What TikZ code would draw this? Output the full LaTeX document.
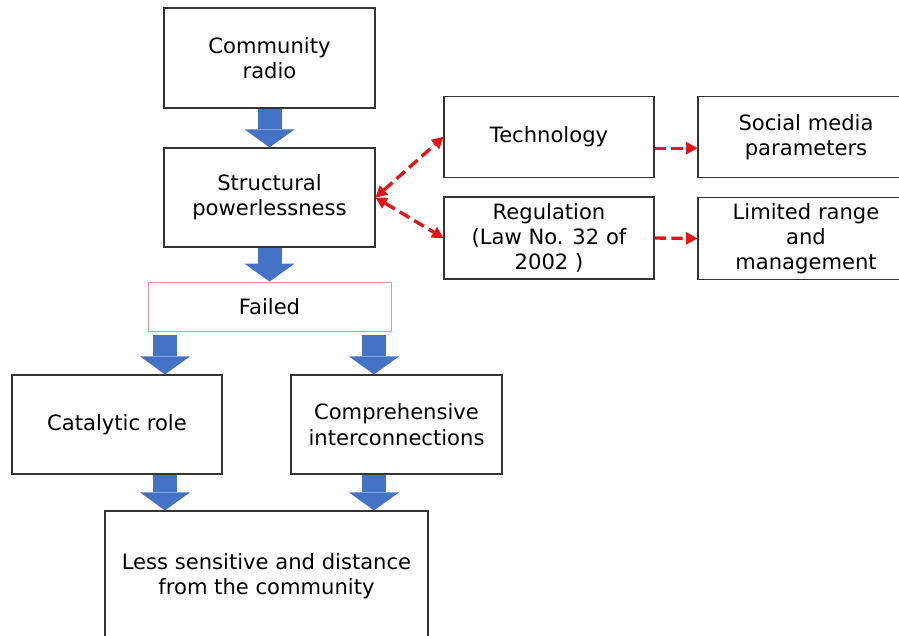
\documentclass[tikz,border=0pt]{standalone}
\usepackage{fontspec}
\setmainfont{DejaVu Sans}
\usetikzlibrary{arrows.meta}
\definecolor{arrowblue}{RGB}{68,114,196}
\definecolor{dashred}{RGB}{226,22,22}
\definecolor{failred}{RGB}{228,150,150}

\begin{document}
\begin{tikzpicture}[x=0.025cm, y=-0.025cm,
        box/.style={draw=black!80, line width=0.8pt, align=center, inner sep=0pt, font=\fontsize{15}{18}\selectfont},
        blockarrow/.style={draw=arrowblue, line width=0.6cm, -{Triangle[length=0.45cm, width=1.25cm, line width=0pt]}},
        redarrow/.style={draw=dashred, line width=2.4pt, dash pattern=on 8pt off 4pt, -{Triangle[length=8pt, width=9pt, line width=0pt]}}]
        \useasboundingbox (0,0) rectangle (899,636);
        \clip (0,0) rectangle (899,636);
        \node[box, minimum width=5.275cm, minimum height=2.5cm] (radio) at (269.5,58) {Community\\radio};
        \node[box, minimum width=5.275cm, minimum height=2.475cm] (struct) at (269.5,197.5) {Structural\\powerlessness};
        \node[box, minimum width=5.25cm, minimum height=2.025cm] (tech) at (549,137) {Technology};
        \node[box, minimum width=5.25cm, minimum height=2.05cm] (reg) at (549,238) {Regulation\\(Law No. 32 of\\2002 )};
        \node[box, minimum width=5.4cm, minimum height=2.025cm] (social) at (806,137) {Social media\\parameters};
        \node[box, minimum width=5.4cm, minimum height=2.05cm] (limited) at (806,238.5) {Limited range\\and\\management};
        \node[box, draw=failred, line width=0.5pt, minimum width=6.075cm, minimum height=1.225cm] (fail) at (269.5,306.5) {Failed};
        \node[box, minimum width=5.25cm, minimum height=2.475cm] (catal) at (117,424.5) {Catalytic role};
        \node[box, minimum width=5.275cm, minimum height=2.475cm] (compr) at (396.5,424.5) {Comprehensive\\interconnections};
        \node[box, minimum width=8.075cm, minimum height=3.25cm] (less) at (266.5,576) {Less sensitive and distance\\from the community};
        \coordinate (colL) at (165,0);
        \coordinate (colR) at (374,0);
        \draw[blockarrow] (radio.south) -- (struct.north);
        \draw[blockarrow] (struct.south) -- (fail.north);
        \draw[blockarrow] ([yshift=-0.1cm]fail.south -| colL) -- (catal.north -| colL);
        \draw[blockarrow] ([yshift=-0.1cm]fail.south -| colR) -- (compr.north -| colR);
        \draw[blockarrow] (catal.south -| colL) -- (less.north -| colL);
        \draw[blockarrow] (compr.south -| colR) -- (less.north -| colR);
        \draw[redarrow, {Triangle[length=8pt, width=9pt, line width=0pt]}-{Triangle[length=8pt, width=9pt, line width=0pt]}] (struct.east) -- (tech.west);
        \draw[redarrow, {Triangle[length=8pt, width=9pt, line width=0pt]}-{Triangle[length=8pt, width=9pt, line width=0pt]}] (struct.east) -- (reg.west);
        \draw[redarrow] ([yshift=-0.28cm]tech.east) -- ([yshift=-0.28cm]social.west);
        \draw[redarrow] (reg.east) -- (limited.west);
\end{tikzpicture}
\end{document}
